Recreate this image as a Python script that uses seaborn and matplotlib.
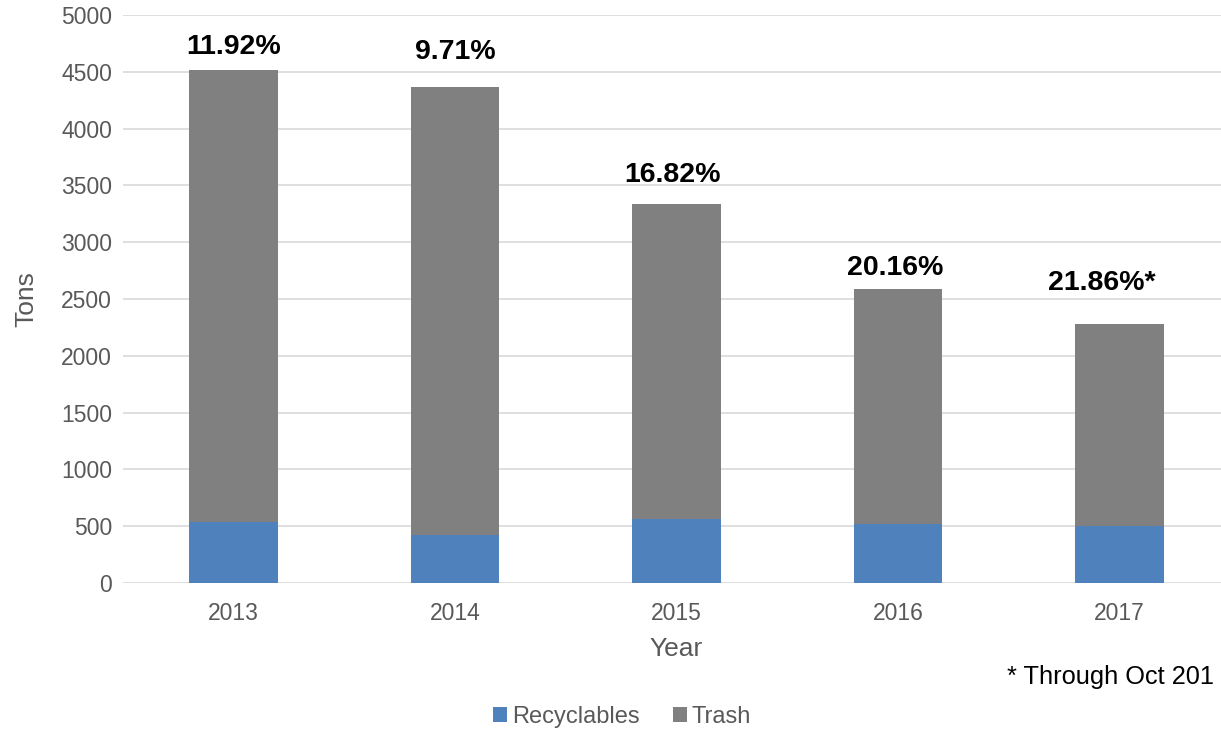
import matplotlib
matplotlib.use('Agg')
import matplotlib.pyplot as plt
import seaborn as sns
import pandas as pd

# 数据
years = ['2013', '2014', '2015', '2016', '2017']
totals = [4520, 4365, 3340, 2590, 2280]
recyclables = [539, 424, 562, 522, 498]
pct_labels = ['11.92%', '9.71%', '16.82%', '20.16%', '21.86%*']

df = pd.DataFrame({'Year': years, 'Total': totals, 'Recyclables': recyclables})

sns.set_theme(style='white')
plt.rcParams['font.family'] = ['Liberation Sans', 'DejaVu Sans']

fig = plt.figure(figsize=(12.21, 7.29), dpi=100)
ax = fig.add_axes([123 / 1221, 146 / 729, 1107 / 1221, 568 / 729])

blue = '#4F81BD'
gray = '#808080'

# 堆叠柱：先画总量（灰色），再画可回收部分（蓝色）
sns.barplot(data=df, x='Year', y='Total', color=gray, width=0.4,
            saturation=1, ax=ax, label='Trash', linewidth=0)
sns.barplot(data=df, x='Year', y='Recyclables', color=blue, width=0.4,
            saturation=1, ax=ax, label='Recyclables', linewidth=0)
handles, labels = ax.get_legend_handles_labels()
if ax.legend_ is not None:
    ax.legend_.remove()

ax.set_ylim(0, 5000)
ax.set_yticks(range(0, 5001, 500))
ax.set_xlim(-0.5, 4.5)
ax.yaxis.grid(True, color='#D9D9D9', linewidth=1.2)
ax.set_axisbelow(True)
for s in ax.spines.values():
    s.set_visible(False)
ax.tick_params(axis='y', length=0, labelsize=16.5, labelcolor='#595959', pad=8)
ax.tick_params(axis='x', length=0, labelsize=16.5, labelcolor='#595959', pad=14)

ax.set_xlabel('Year', fontsize=19, color='#595959', labelpad=8)
ax.set_ylabel('Tons', fontsize=19, color='#595959')
ax.yaxis.set_label_coords(-85 / 1107, 0.5)

# 百分比标签（位置按原图手动摆放）
label_y = [4718, 4674, 3592, 2773, 2641]
label_dx = [0, 0, -0.02, -0.01, -0.08]
for i, txt in enumerate(pct_labels):
    ax.text(i + label_dx[i], label_y[i], txt, ha='center', va='center',
            fontsize=20.5, fontweight='bold', color='black')

# 脚注（原图右侧被截断，只显示到 "201"）
fig.text(1007 / 1221, 1 - 677 / 729, '* Through Oct 201', ha='left', va='center',
         fontsize=18.3, color='black')

order = [labels.index('Recyclables'), labels.index('Trash')]
fig.legend([handles[k] for k in order], [labels[k] for k in order],
           loc='center', bbox_to_anchor=(622 / 1221, 1 - 717 / 729), ncol=2,
           frameon=False, fontsize=17, labelcolor='#595959',
           handlelength=0.6, handleheight=0.6, handletextpad=0.2, columnspacing=1.4)

fig.savefig('out.png', dpi=100)
